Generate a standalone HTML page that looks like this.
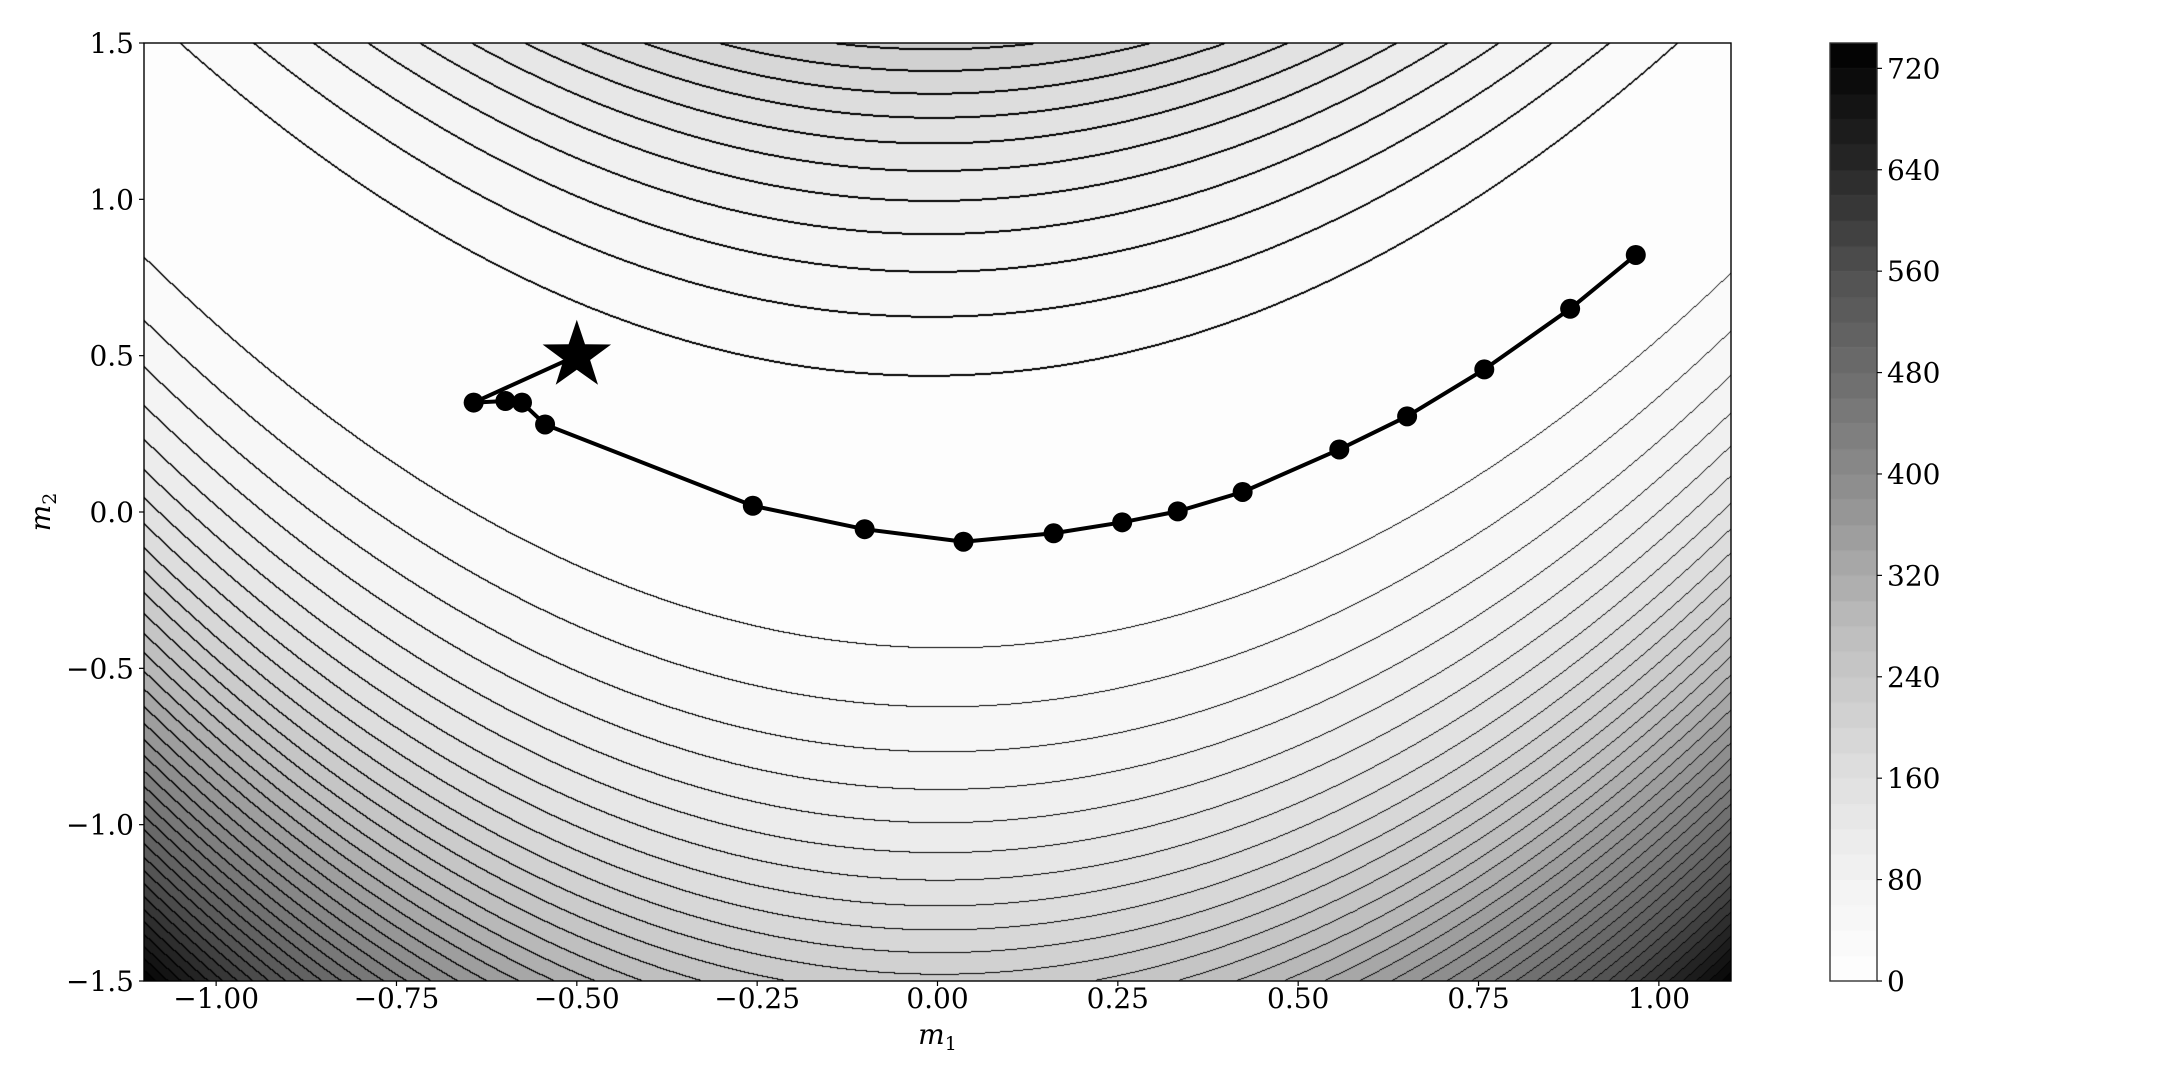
<!DOCTYPE html>
<html><head><meta charset="utf-8">
<style>
html,body{margin:0;padding:0;background:#fff;}
#wrap{position:relative;width:2160px;height:1080px;overflow:hidden;font-family:"DejaVu Serif","Liberation Serif",serif;}
canvas{position:absolute;left:0;top:0;}
svg{position:absolute;left:0;top:0;}
</style></head>
<body>
<div id="wrap">
<canvas id="cv" width="2160" height="1080"></canvas>
<svg id="sv" width="2160" height="1080"></svg>
</div>
<script>
const xTicks=[-1.0,-0.75,-0.5,-0.25,0.0,0.25,0.5,0.75,1.0];
const xTickLabels=["\u22121.00","\u22120.75","\u22120.50","\u22120.25","0.00","0.25","0.50","0.75","1.00"];
const yTicks=[1.5,1.0,0.5,0.0,-0.5,-1.0,-1.5];
const yTickLabels=["1.5","1.0","0.5","0.0","\u22120.5","\u22121.0","\u22121.5"];
const cbTicks=[0,80,160,240,320,400,480,560,640,720];
const levelStep=20;
const levelMax=740;
const pathX=[-0.5,-0.643,-0.599,-0.576,-0.544,-0.256,-0.101,0.036,0.161,0.256,0.333,0.423,0.557,0.651,0.758,0.877,0.968];
const pathY=[0.5,0.350,0.355,0.350,0.280,0.020,-0.055,-0.095,-0.068,-0.033,0.002,0.064,0.200,0.306,0.456,0.650,0.822];
const starX=-0.5, starY=0.5;

const L=144,R=1731,T=43,B=981;
const xmin=-1.1,xmax=1.1,ymin=-1.5,ymax=1.5;
const sx=v=>L+(v-xmin)/(xmax-xmin)*(R-L);
const sy=v=>B-(v-ymin)/(ymax-ymin)*(B-T);
const f=(x,y)=>100*(y-x*x)*(y-x*x)+(1-x)*(1-x);
const nb=Math.round(levelMax/levelStep);
const greys=[255,240,217,189,150,115,82,37,0];
const bandColor=i=>{const t=(i+0.5)/nb*8;const k=Math.min(7,Math.floor(t));const fr=t-k;
 const g=Math.round(greys[k]+(greys[k+1]-greys[k])*fr);return [g,g,g];};

const cv=document.getElementById('cv');const ctx=cv.getContext('2d');
const W=R-L,H=B-T;
const img=ctx.createImageData(W,H);
const band=new Int16Array(W*H);
for(let j=0;j<H;j++){const y=ymax-(j+0.5)/H*(ymax-ymin);
 for(let i=0;i<W;i++){const x=xmin+(i+0.5)/W*(xmax-xmin);
  let b=Math.floor(f(x,y)/levelStep);if(b>=nb)b=nb-1;band[j*W+i]=b;}}
for(let j=0;j<H;j++)for(let i=0;i<W;i++){const k=j*W+i;const b=band[k];
 let c=bandColor(b);
 const edge=(i+1<W&&band[k+1]!==b)||(j+1<H&&band[k+W]!==b)||(i>0&&band[k-1]>b)||(j>0&&band[k-W]>b);
 if(edge)c=[0,0,0];
 img.data[k*4]=c[0];img.data[k*4+1]=c[1];img.data[k*4+2]=c[2];img.data[k*4+3]=255;}
ctx.putImageData(img,L,T);
const CL=1830,CR=1877,CT=43,CB=981;
const cby=v=>CB-v/levelMax*(CB-CT);
for(let b=0;b<nb;b++){const c=bandColor(b);ctx.fillStyle=`rgb(${c[0]},${c[1]},${c[2]})`;
 const y1=cby((b+1)*levelStep),y0=cby(b*levelStep);ctx.fillRect(CL,y1,CR-CL,y0-y1+0.5);}

const NS='http://www.w3.org/2000/svg';const sv=document.getElementById('sv');
function mk(tag,attrs,parent){const e=document.createElementNS(NS,tag);for(const k in attrs)e.setAttribute(k,attrs[k]);(parent||sv).appendChild(e);return e;}
let e;
e=mk('rect',{x:L,y:T,width:R-L,height:B-T,fill:'none',stroke:'#000','stroke-width':1.4});


e=mk('rect',{x:CL,y:CT,width:CR-CL,height:CB-CT,fill:'none',stroke:'#333','stroke-width':1.4});


xTicks.forEach((v,i)=>{const x=sx(v);
 e=mk('line',{x1:x,x2:x,y1:B,y2:B+5,stroke:'#000','stroke-width':1.2});
 
 
 e=mk('text',{x:x,y:1008,'text-anchor':'middle','font-size':28,fill:'#000'});e.textContent=xTickLabels[i];
 
 });
yTicks.forEach((v,i)=>{const y=sy(v);
 e=mk('line',{x1:L-5,x2:L,y1:y,y2:y,stroke:'#000','stroke-width':1.2});
 
 
 e=mk('text',{x:L-10,y:y+10,'text-anchor':'end','font-size':28,fill:'#000'});e.textContent=yTickLabels[i];
 
 });
cbTicks.forEach(v=>{const y=cby(v);
 e=mk('line',{x1:CR,x2:CR+5,y1:y,y2:y,stroke:'#000','stroke-width':1.2});
 
 
 e=mk('text',{x:CR+10,y:y+10,'font-size':28,fill:'#000'});e.textContent=String(v);
 
 });
e=mk('text',{x:(L+R)/2,y:1044,'text-anchor':'middle','font-size':28,'font-style':'italic'});
e.innerHTML='m<tspan font-size="19" dy="6" font-style="normal">1</tspan>';


e=mk('text',{x:0,y:0,'text-anchor':'middle','font-size':28,'font-style':'italic',transform:`translate(50,${(T+B)/2}) rotate(-90)`});
e.innerHTML='m<tspan font-size="19" dy="6" font-style="normal">2</tspan>';


const pts=pathX.map((v,i)=>sx(v)+','+sy(pathY[i])).join(' ');
e=mk('polyline',{points:pts,fill:'none',stroke:'#000','stroke-width':4,'stroke-linejoin':'round'});


pathX.forEach((v,i)=>{if(i===0)return;
 e=mk('circle',{cx:sx(v),cy:sy(pathY[i]),r:10,fill:'#000'});
 
 });
const cx=sx(starX),cy=sy(starY);let sp=[];
for(let k=0;k<10;k++){const a=-Math.PI/2+k*Math.PI/5;const r=k%2?14:36;sp.push((cx+r*Math.cos(a)).toFixed(1)+','+(cy+r*Math.sin(a)).toFixed(1));}
e=mk('polygon',{points:sp.join(' '),fill:'#000'});


</script>
</body></html>
